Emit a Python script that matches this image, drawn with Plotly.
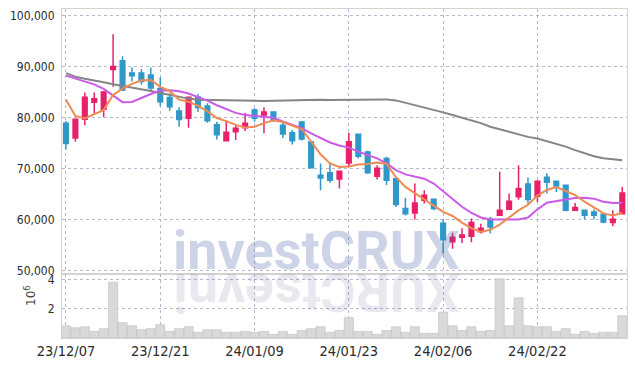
import plotly.graph_objects as go

dates = ["23/12/07", "23/12/08", "23/12/11", "23/12/12", "23/12/13", "23/12/14", "23/12/15",
         "23/12/18", "23/12/19", "23/12/20", "23/12/21", "23/12/22", "23/12/26", "23/12/27",
         "23/12/28", "24/01/02", "24/01/03", "24/01/04", "24/01/05", "24/01/08", "24/01/09",
         "24/01/10", "24/01/11", "24/01/12", "24/01/15", "24/01/16", "24/01/17", "24/01/18",
         "24/01/19", "24/01/22", "24/01/23", "24/01/24", "24/01/25", "24/01/26", "24/01/29",
         "24/01/30", "24/01/31", "24/02/01", "24/02/02", "24/02/05", "24/02/06", "24/02/07",
         "24/02/08", "24/02/13", "24/02/14", "24/02/15", "24/02/16", "24/02/19", "24/02/20",
         "24/02/21", "24/02/22", "24/02/23", "24/02/26", "24/02/27", "24/02/28", "24/02/29",
         "24/03/04", "24/03/05", "24/03/06", "24/03/07"]

open_ = [78850, 76000, 79650, 83000, 81600, 89400, 91100, 88700, 88700, 88350,
         85700, 83900, 81250, 79850, 84000, 82250, 78600, 75450, 77200, 78000,
         81450, 80500, 81100, 78500, 77000, 79100, 75200, 68700, 69150, 67950,
         71100, 76700, 73250, 68500, 71950, 68000, 62150, 61300, 63800, 64000,
         59300, 55650, 56550, 56750, 57600, 60050, 60850, 62000, 64450, 66950,
         64550, 68300, 67500, 66700, 61800, 61800, 61500, 61050, 59400, 61150]
high = [79300, 79700, 84900, 84900, 85200, 96300, 92000, 89850, 89450, 89800,
        87900, 84750, 82000, 84100, 84600, 82800, 79150, 79150, 78500, 80950,
        81800, 82000, 81150, 79000, 77550, 79300, 75350, 71000, 71300, 69500,
        77000, 76750, 73500, 70650, 72300, 68250, 64250, 67050, 65750, 64100,
        60050, 57400, 58300, 60200, 59200, 60500, 69350, 65100, 70650, 68250,
        67700, 69050, 67550, 66850, 63250, 61850, 61950, 61100, 61800, 66400]
low = [73800, 75250, 78500, 80900, 80050, 86000, 85200, 87050, 86400, 85400,
       82200, 81300, 78200, 78000, 81150, 78950, 75700, 75400, 75600, 77350,
       79150, 76900, 79100, 76000, 74700, 75500, 70000, 65750, 67200, 66100,
       70350, 71950, 69000, 67850, 66750, 62450, 60800, 60000, 63150, 61800,
       53300, 54300, 55400, 55550, 57250, 57250, 60800, 61950, 63900, 63150,
       63450, 65100, 65400, 61650, 61750, 60050, 60050, 59300, 58700, 61100]
close = [74900, 79650, 83950, 83650, 85000, 90000, 85400, 88200, 87050, 85800,
         83100, 82100, 79600, 83950, 81950, 79350, 76600, 77100, 77900, 78850,
         79850, 81100, 79600, 76750, 75450, 75800, 70150, 68150, 67700, 69450,
         75250, 72400, 69150, 70050, 67700, 62950, 61150, 63250, 64750, 62150,
         56050, 56550, 56950, 59400, 58300, 58550, 61800, 63600, 66100, 63950,
         67500, 67300, 66600, 61800, 62350, 60850, 60850, 59500, 60050, 65200]

ma_short = [83500, 80300, 79800, 80600, 81500, 84400, 85650, 86600, 87300, 87350,
            86000, 85200, 83500, 83100, 82300, 81200, 79900, 79300, 78550, 78050,
            78200, 78900, 79450, 79100, 78400, 77750, 75300, 72800, 71000, 70300,
            70400, 70800, 70900, 71200, 70950, 68300, 66400, 65200, 64000, 62850,
            61500, 60700, 59400, 58300, 57600, 58000, 59000, 60400, 61800, 62900,
            64700, 65800, 66350, 65600, 64800, 63500, 62300, 61200, 60800, 61300]
ma_mid = [88200, 87600, 87100, 86500, 85600, 84300, 83000, 83050, 83900, 84600,
          85300, 85350, 85150, 84700, 84000, 83300, 82400, 81700, 80900, 80500,
          80300, 80150, 79950, 79250, 78600, 77900, 76900, 76000, 75100, 74500,
          74100, 73300, 72650, 72000, 71000, 69700, 68850, 68400, 68000, 67050,
          65500, 64100, 62500, 61300, 60400, 60000, 59950, 59950, 60000, 60400,
          62000, 63300, 63700, 63950, 64200, 64250, 64100, 63500, 63250, 63300]
ma_long = [88700, 88000, 87600, 87300, 86900, 86500, 86200, 85900, 85600, 85200,
           84800, 84400, 84000, 83700, 83500, 83450, 83400, 83350, 83300, 83250,
           83250, 83250, 83300, 83350, 83400, 83450, 83500, 83500, 83450, 83450,
           83450, 83500, 83500, 83550, 83550, 83350, 82900, 82400, 81900, 81600,
           81000, 80500, 80000, 79400, 78900, 78200, 77700, 77200, 76700, 76200,
           75900, 75400, 74950, 74300, 73600, 72950, 72400, 72000, 71800, 71600]

volume = [840000, 700000, 770000, 450000, 640000, 3820000, 1050000, 840000, 570000, 640000,
          910000, 450000, 640000, 770000, 390000, 570000, 570000, 390000, 390000, 450000,
          390000, 450000, 250000, 450000, 250000, 520000, 640000, 770000, 390000, 520000,
          1390000, 450000, 450000, 250000, 520000, 770000, 390000, 770000, 320000, 320000,
          1770000, 840000, 520000, 770000, 450000, 520000, 4050000, 840000, 2750000, 840000,
          770000, 770000, 450000, 640000, 250000, 450000, 320000, 390000, 390000, 1520000]

price_ticks = [50000, 60000, 70000, 80000, 90000, 100000]
date_ticks = ["23/12/07", "23/12/21", "24/01/09", "24/01/23", "24/02/06", "24/02/22"]
vol_ticks = [2000000, 4000000]
vol_tick_text = ["2", "4"]

UP = "#e8206a"
DOWN = "#3098c8"
GRID = "rgba(175,175,205,0.9)"
BORDER = "#d2d2d2"
FONT_FAMILY = "Liberation Sans Narrow, DejaVu Sans Condensed, Liberation Sans, sans-serif"
YFONT = dict(family=FONT_FAMILY, size=12, color="#2b2b2b")
XFONT = dict(family=FONT_FAMILY, size=14.5, color="#2b2b2b")

fig = go.Figure()

fig.add_trace(go.Candlestick(
    x=dates, open=open_, high=high, low=low, close=close,
    increasing=dict(line=dict(color=UP, width=1.5), fillcolor=UP),
    decreasing=dict(line=dict(color=DOWN, width=1.5), fillcolor=DOWN),
    xaxis="x", yaxis="y", showlegend=False,
))
fig.add_trace(go.Scatter(x=dates, y=ma_long, mode="lines", line=dict(color="#858585", width=2),
                         xaxis="x", yaxis="y", showlegend=False))
fig.add_trace(go.Scatter(x=dates, y=ma_mid, mode="lines", line=dict(color="#cc5ae8", width=2),
                         xaxis="x", yaxis="y", showlegend=False))
fig.add_trace(go.Scatter(x=dates, y=ma_short, mode="lines", line=dict(color="#ee8a52", width=2),
                         xaxis="x", yaxis="y", showlegend=False))

fig.add_trace(go.Bar(x=dates, y=volume, marker=dict(color="#d9d9d9", line=dict(color="#bdbdbd", width=0.6)),
                     xaxis="x2", yaxis="y2", showlegend=False))

VOL_TOP = 0.1945
xcommon = dict(type="category", range=[-0.42, 59.5], tickmode="array", tickvals=date_ticks,
               showgrid=True, gridcolor=GRID, griddash="dot", gridwidth=1,
               showline=True, linecolor=BORDER, linewidth=1, mirror=True, ticks="",
               zeroline=False, automargin=False)
ycommon = dict(showgrid=True, gridcolor=GRID, griddash="dot", gridwidth=1,
               showline=True, linecolor=BORDER, linewidth=1, mirror=True, ticks="",
               zeroline=False, tickfont=YFONT, automargin=False, ticklabelstandoff=4)

fig.update_layout(
    width=635, height=366,
    margin=dict(l=62, r=8, t=9, b=28),
    paper_bgcolor="white", plot_bgcolor="white",
    bargap=0.04,
    xaxis=dict(xcommon, anchor="y", showticklabels=False, matches="x2",
               rangeslider=dict(visible=False)),
    xaxis2=dict(xcommon, anchor="y2", showticklabels=True, tickfont=XFONT),
    yaxis=dict(ycommon, domain=[VOL_TOP, 1], range=[49330, 101260], tickvals=price_ticks,
               tickformat=",d"),
    yaxis2=dict(ycommon, domain=[0, VOL_TOP], range=[0, 4380000], tickvals=vol_ticks,
                ticktext=vol_tick_text),
    annotations=[
        dict(text="investCRUX", xref="paper", yref="paper", x=0.4504, y=0.267,
             xanchor="center", yanchor="middle", showarrow=False,
             font=dict(family="Roboto, Liberation Sans, sans-serif", size=54, weight="bold",
                       color="rgba(80,100,170,0.28)")),
        dict(text="XURCtsevni", xref="paper", yref="paper", x=0.4504, y=0.140,
             xanchor="center", yanchor="middle", showarrow=False, textangle=180,
             font=dict(family="Roboto, Liberation Sans, sans-serif", size=54, weight="bold",
                       color="rgba(90,90,140,0.14)")),
        dict(text="10<sup>6</sup>", xref="paper", yref="paper", x=-0.0566, y=0.128,
             xanchor="center", yanchor="middle", showarrow=False, textangle=-90,
             font=dict(family="DejaVu Sans, sans-serif", size=12, color="#444444")),
    ],
)

fig.write_html("out.html", config={"displayModeBar": False},
               post_script="document.body.style.margin='0';")
